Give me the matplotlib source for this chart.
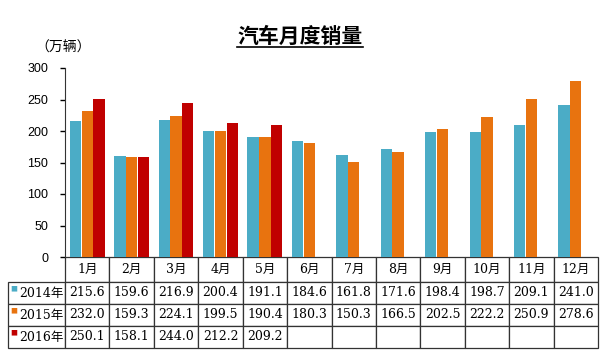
import numpy as np
import matplotlib
matplotlib.use("Agg")
import matplotlib.pyplot as plt
from matplotlib.table import Table
from matplotlib.lines import Line2D

months = ["1月", "2月", "3月", "4月", "5月", "6月", "7月", "8月", "9月", "10月", "11月", "12月"]
years = ["2014年", "2015年", "2016年"]
sales_2014 = [215.6, 159.6, 216.9, 200.4, 191.1, 184.6, 161.8, 171.6, 198.4, 198.7, 209.1, 241.0]
sales_2015 = [232.0, 159.3, 224.1, 199.5, 190.4, 180.3, 150.3, 166.5, 202.5, 222.2, 250.9, 278.6]
sales_2016 = [250.1, 158.1, 244.0, 212.2, 209.2]
colors = ["#4BACC6", "#E8730F", "#C00000"]
yticks = [0, 50, 100, 150, 200, 250, 300]

plt.rcParams['font.family'] = ['Liberation Sans', 'Noto Sans CJK SC']
cjk = ['Noto Sans CJK SC', 'DejaVu Sans']
tab_font = ['DejaVu Serif', 'Noto Sans CJK SC']


def main():
    fig = plt.figure(figsize=(6.04, 3.62), dpi=100)
    ax = fig.add_axes([65/604, 1 - 257/362, 533/604, 189/362])

    series = [sales_2014, sales_2015, sales_2016]
    x = np.arange(len(months))
    w = 0.255
    off = 0.265
    for i, vals in enumerate(series):
        xs = x[:len(vals)] + (i - 1) * off
        ax.bar(xs, vals, width=w, color=colors[i], linewidth=0)

    ax.set_xlim(-0.5, len(months) - 0.5)
    ax.set_ylim(0, 300)
    ax.set_yticks(yticks)
    ax.tick_params(axis='y', direction='out', length=3.6, width=1, labelsize=9, pad=8.5)
    ax.set_xticks([])
    for s in ['top', 'right', 'bottom']:
        ax.spines[s].set_visible(False)
    ax.spines['left'].set_color('#333333')

    # data table under the bars
    n = len(months)
    lab_w = 57 / 44.4
    tbl = Table(ax, bbox=[-57/533, -91/189, 590/533, 91/189])
    hh, rh = 25, 22
    c = tbl.add_cell(0, 0, width=lab_w, height=hh, text="")
    c.visible_edges = ""
    for j, m in enumerate(months):
        tbl.add_cell(0, j + 1, width=1, height=hh, text=m, loc='center')
    for r, vals in enumerate(series):
        tbl.add_cell(r + 1, 0, width=lab_w, height=rh, text=years[r], loc='right')
        for j in range(n):
            txt = f"{vals[j]:.1f}" if j < len(vals) else ""
            tbl.add_cell(r + 1, j + 1, width=1, height=rh, text=txt, loc='center')
    tbl.auto_set_font_size(False)
    for key, cell in tbl.get_celld().items():
        cell.set_linewidth(0.9)
        cell.set_edgecolor('#333333')
        cell.PAD = 0.03
        t = cell.get_text()
        t.set_fontsize(9)
        t.set_fontfamily(tab_font)
    ax.add_table(tbl)

    # small colour squares before the year labels
    for r in range(3):
        yc = -(hh + rh * r + rh * 0.35) / 189
        ax.text(-51/533, yc, "■", color=colors[r], fontsize=5,
                ha='center', va='center', transform=ax.transAxes,
                family=cjk, clip_on=False)

    fig.text(63/604, 1 - 48/362, "（万辆）", ha='center', va='center',
             fontsize=10, family=cjk)
    title = fig.text(300/604, 1 - 36/362, "汽车月度销量", ha='center', va='center',
                     fontsize=15, fontweight='bold', family=cjk)
    fig.canvas.draw()
    bb = title.get_window_extent().transformed(fig.transFigure.inverted())
    fig.add_artist(Line2D([bb.x0, bb.x1], [1 - 47/362, 1 - 47/362],
                          color='black', linewidth=1.2, transform=fig.transFigure))

    fig.savefig("out.png", dpi=100)


if __name__ == '__main__':
    main()
